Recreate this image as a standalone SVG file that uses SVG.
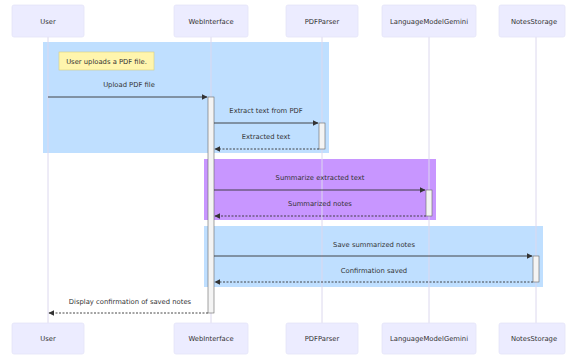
<svg xmlns="http://www.w3.org/2000/svg" width="568" height="356" viewBox="0 0 568 356">
  <style>
    .actor { fill: #ececff; stroke: #e4e4f7; stroke-width: 0.8; }
    .actor-label { font-family: "DejaVu Sans", "Liberation Sans", sans-serif; font-size: 6.8px; fill: #333; text-anchor: middle; dominant-baseline: central; }
    .lifeline { stroke: #dcd8ee; stroke-width: 1; }
    .msg { font-family: "DejaVu Sans", "Liberation Sans", sans-serif; font-size: 6.8px; fill: #333; text-anchor: middle; dominant-baseline: central; }
    .line { stroke: #333; stroke-width: 0.9; fill: none; }
    .dashed { stroke-dasharray: 2 1.5; }
    .activation { fill: #f4f4f4; stroke: #666; stroke-width: 0.6; }
    .note { fill: #fff5ad; stroke: #d8d080; stroke-width: 0.6; }
  </style>
  <defs>
    <marker id="arrowhead" viewBox="0 0 10 10" refX="9" refY="5" markerWidth="6" markerHeight="6" markerUnits="userSpaceOnUse" orient="auto">
      <path d="M0,0 L10,5 L0,10 z" fill="#333"/>
    </marker>
  </defs>

  <rect width="568" height="356" fill="#ffffff"/>

  <!-- highlighted regions -->
  <g id="regions">
    <rect x="43" y="42" width="286" height="111" fill="rgb(191,223,255)"/>
    <rect x="204" y="159" width="232" height="61" fill="rgb(200,150,255)"/>
    <rect x="204" y="226" width="339" height="61" fill="rgb(191,223,255)"/>
  </g>

  <!-- lifelines -->
  <g id="lifelines">
    <line class="lifeline" x1="48" y1="37" x2="48" y2="323"/>
    <line class="lifeline" x1="211" y1="37" x2="211" y2="323"/>
    <line class="lifeline" x1="322" y1="37" x2="322" y2="323"/>
    <line class="lifeline" x1="429" y1="37" x2="429" y2="323"/>
    <line class="lifeline" x1="536" y1="37" x2="536" y2="323"/>
  </g>

  <!-- participants -->
  <g id="User">
    <rect class="actor" x="12" y="5" width="72" height="32" rx="2"/>
    <text class="actor-label" x="48" y="22">User</text>
    <rect class="actor" x="12" y="323" width="72" height="31" rx="2"/>
    <text class="actor-label" x="48" y="339">User</text>
  </g>
  <g id="WebInterface">
    <rect class="actor" x="174" y="5" width="74" height="32" rx="2"/>
    <text class="actor-label" x="211" y="22">WebInterface</text>
    <rect class="actor" x="174" y="323" width="74" height="31" rx="2"/>
    <text class="actor-label" x="211" y="339">WebInterface</text>
  </g>
  <g id="PDFParser">
    <rect class="actor" x="286" y="5" width="72" height="32" rx="2"/>
    <text class="actor-label" x="322" y="22">PDFParser</text>
    <rect class="actor" x="286" y="323" width="72" height="31" rx="2"/>
    <text class="actor-label" x="322" y="339">PDFParser</text>
  </g>
  <g id="LanguageModelGemini">
    <rect class="actor" x="382" y="5" width="94" height="32" rx="2"/>
    <text class="actor-label" x="429" y="22">LanguageModelGemini</text>
    <rect class="actor" x="382" y="323" width="94" height="31" rx="2"/>
    <text class="actor-label" x="429" y="339">LanguageModelGemini</text>
  </g>
  <g id="NotesStorage">
    <rect class="actor" x="499" y="5" width="66" height="32" rx="2"/>
    <text class="actor-label" x="534" y="22">NotesStorage</text>
    <rect class="actor" x="499" y="323" width="66" height="31" rx="2"/>
    <text class="actor-label" x="534" y="339">NotesStorage</text>
  </g>

  <!-- note -->
  <g id="note-upload">
    <rect class="note" x="59" y="52" width="95" height="18"/>
    <text class="msg" x="106.5" y="61.5">User uploads a PDF file.</text>
  </g>

  <!-- activations -->
  <g id="activations">
    <rect class="activation" x="208" y="97" width="6" height="216"/>
    <rect class="activation" x="319" y="123" width="6" height="26"/>
    <rect class="activation" x="426" y="190" width="6" height="26"/>
    <rect class="activation" x="533" y="256" width="6" height="26"/>
  </g>

  <!-- messages -->
  <g id="connectors">
    <text class="msg" x="129" y="85">Upload PDF file</text>
    <line class="line" x1="48" y1="97" x2="207" y2="97" marker-end="url(#arrowhead)"/>

    <text class="msg" x="266" y="111">Extract text from PDF</text>
    <line class="line" x1="214" y1="123" x2="318" y2="123" marker-end="url(#arrowhead)"/>

    <text class="msg" x="266" y="137">Extracted text</text>
    <line class="line dashed" x1="319" y1="149" x2="215" y2="149" marker-end="url(#arrowhead)"/>

    <text class="msg" x="320" y="178">Summarize extracted text</text>
    <line class="line" x1="214" y1="190" x2="425" y2="190" marker-end="url(#arrowhead)"/>

    <text class="msg" x="320" y="204">Summarized notes</text>
    <line class="line dashed" x1="426" y1="216" x2="215" y2="216" marker-end="url(#arrowhead)"/>

    <text class="msg" x="374" y="245">Save summarized notes</text>
    <line class="line" x1="214" y1="256" x2="532" y2="256" marker-end="url(#arrowhead)"/>

    <text class="msg" x="374" y="271">Confirmation saved</text>
    <line class="line dashed" x1="533" y1="282" x2="215" y2="282" marker-end="url(#arrowhead)"/>

    <text class="msg" x="130" y="302">Display confirmation of saved notes</text>
    <line class="line dashed" x1="208" y1="313" x2="49" y2="313" marker-end="url(#arrowhead)"/>
  </g>
</svg>
